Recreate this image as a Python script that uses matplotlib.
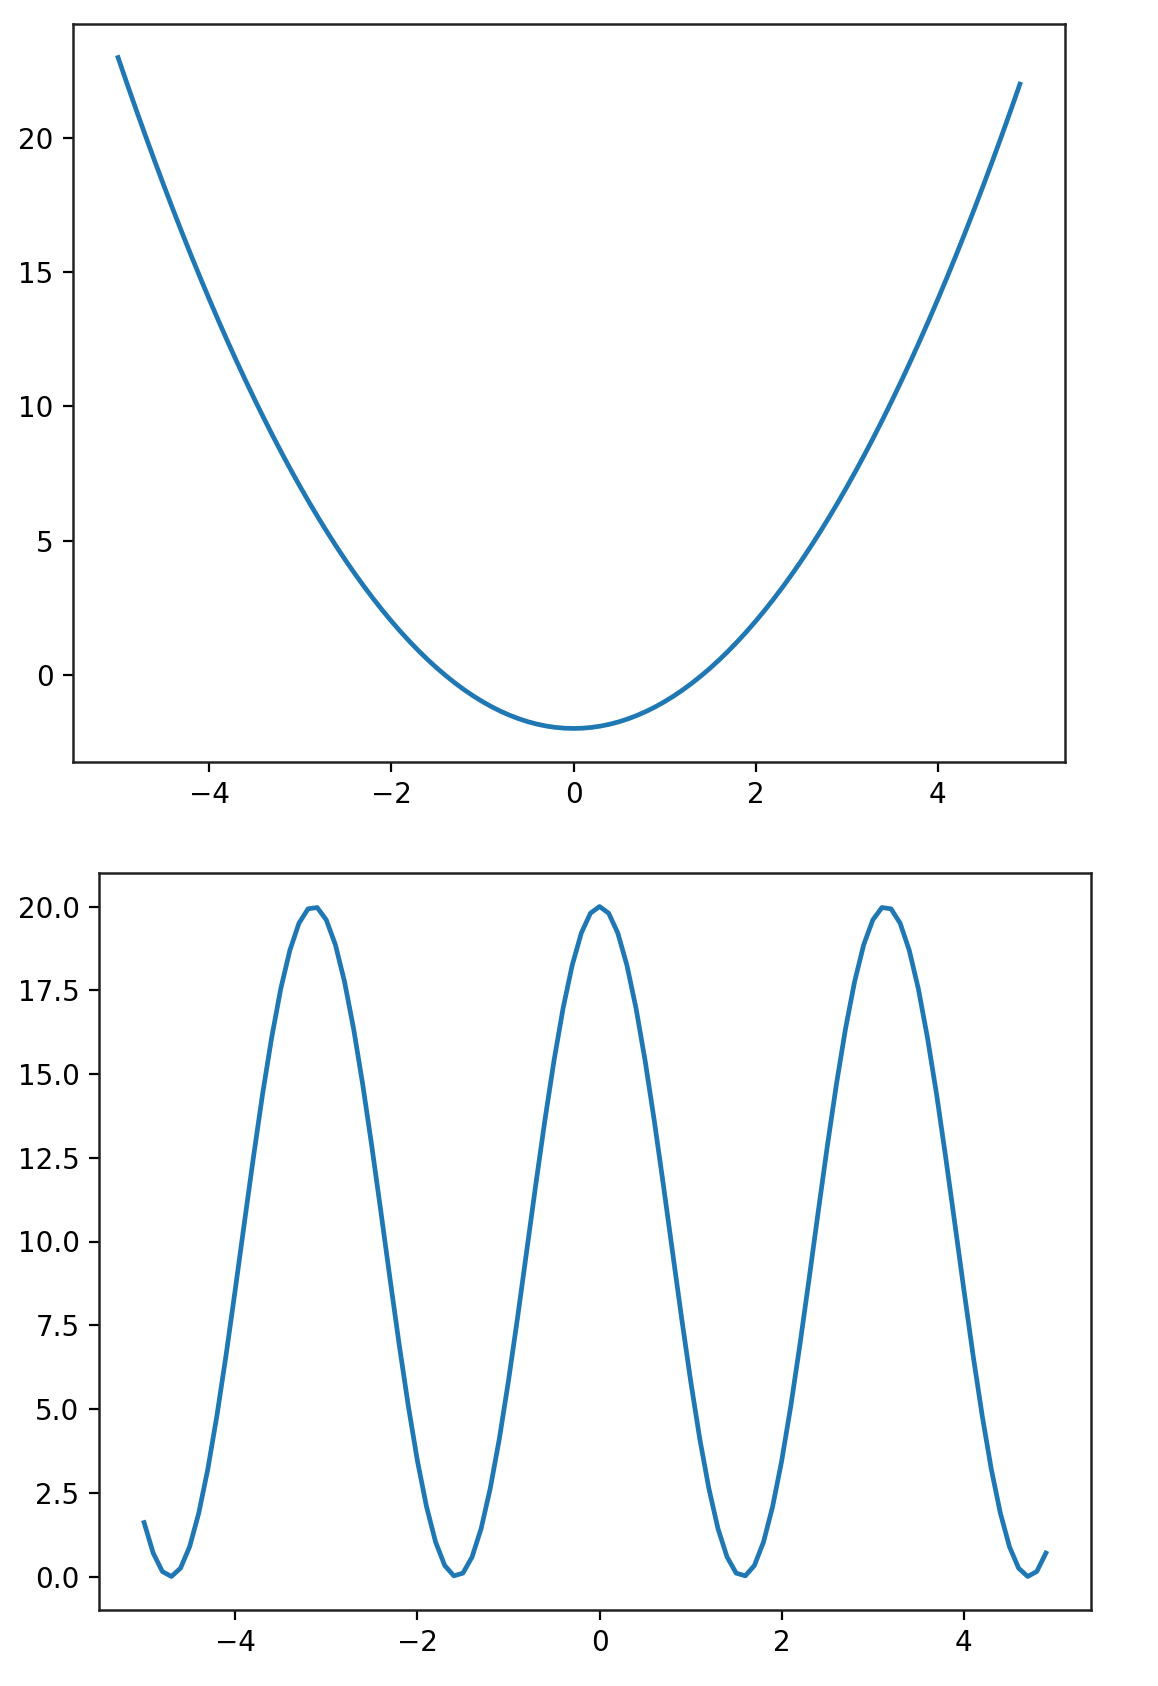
import matplotlib
matplotlib.use("Agg")
import matplotlib.pyplot as plt

x = [round(-5.0 + 0.1 * i, 1) for i in range(100)]

# top panel values (parabola)
y_top = [23.00, 22.01, 21.04, 20.09, 19.16, 18.25, 17.36, 16.49, 15.64, 14.81,
         14.00, 13.21, 12.44, 11.69, 10.96, 10.25, 9.56, 8.89, 8.24, 7.61,
         7.00, 6.41, 5.84, 5.29, 4.76, 4.25, 3.76, 3.29, 2.84, 2.41,
         2.00, 1.61, 1.24, 0.89, 0.56, 0.25, -0.04, -0.31, -0.56, -0.79,
         -1.00, -1.19, -1.36, -1.51, -1.64, -1.75, -1.84, -1.91, -1.96, -1.99,
         -2.00, -1.99, -1.96, -1.91, -1.84, -1.75, -1.64, -1.51, -1.36, -1.19,
         -1.00, -0.79, -0.56, -0.31, -0.04, 0.25, 0.56, 0.89, 1.24, 1.61,
         2.00, 2.41, 2.84, 3.29, 3.76, 4.25, 4.76, 5.29, 5.84, 6.41,
         7.00, 7.61, 8.24, 8.89, 9.56, 10.25, 10.96, 11.69, 12.44, 13.21,
         14.00, 14.81, 15.64, 16.49, 17.36, 18.25, 19.16, 20.09, 21.04, 22.01]

# bottom panel values (oscillation)
y_bot = [1.61, 0.70, 0.15, 0.00, 0.25, 0.89, 1.89, 3.21, 4.81, 6.61,
         8.55, 10.54, 12.51, 14.39, 16.08, 17.54, 18.69, 19.50, 19.93, 19.97,
         19.60, 18.86, 17.76, 16.35, 14.69, 12.84, 10.88, 8.88, 6.93, 5.10,
         3.46, 2.09, 1.03, 0.33, 0.02, 0.10, 0.58, 1.43, 2.63, 4.11,
         5.84, 7.73, 9.71, 11.70, 13.62, 15.40, 16.97, 18.25, 19.21, 19.80,
         20.00, 19.80, 19.21, 18.25, 16.97, 15.40, 13.62, 11.70, 9.71, 7.73,
         5.84, 4.11, 2.63, 1.43, 0.58, 0.10, 0.02, 0.33, 1.03, 2.09,
         3.46, 5.10, 6.93, 8.88, 10.88, 12.84, 14.69, 16.35, 17.76, 18.86,
         19.60, 19.97, 19.93, 19.50, 18.69, 17.54, 16.08, 14.39, 12.51, 10.54,
         8.55, 6.61, 4.81, 3.21, 1.89, 0.89, 0.25, 0.00, 0.15, 0.70]

plt.rcParams["axes.edgecolor"] = "#222222"
plt.rcParams["axes.linewidth"] = 0.9

fig = plt.figure(figsize=(5.79, 8.43), dpi=200)

ax1 = fig.add_axes([73/1158, 1 - 762/1686, (1065 - 73)/1158, (762 - 24)/1686])
ax1.plot(x, y_top, color="#1f77b4", lw=1.7)

ax2 = fig.add_axes([99/1158, 1 - 1610/1686, (1091 - 99)/1158, (1610 - 873)/1686])
ax2.plot(x, y_bot, color="#1f77b4", lw=1.7)

fig.savefig("out.png", dpi=200)
